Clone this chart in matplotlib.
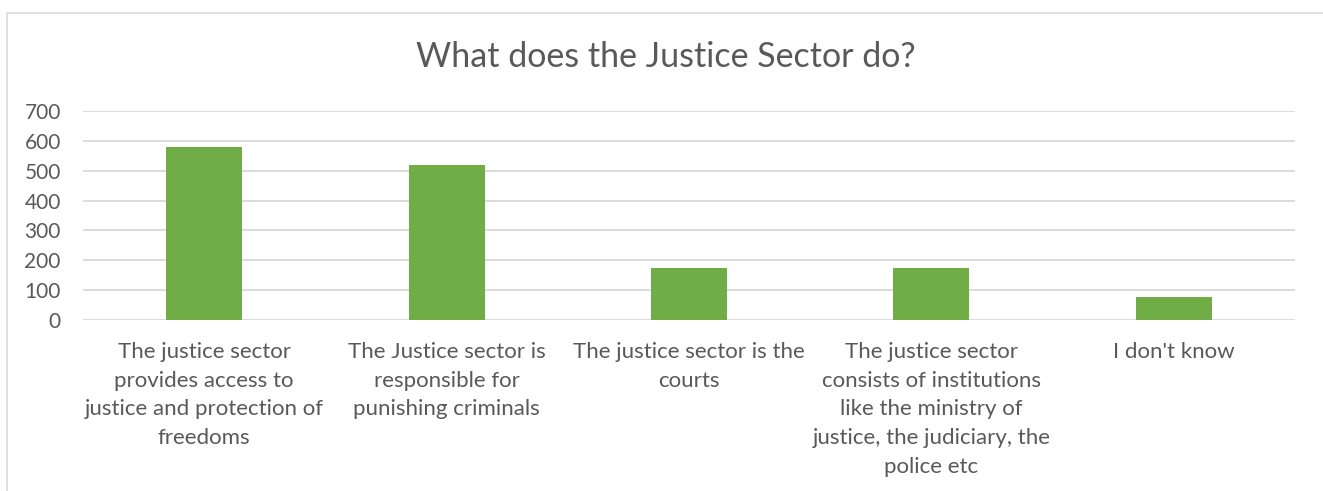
import matplotlib.pyplot as plt
from matplotlib.patches import Rectangle

categories = [
    "The justice sector\nprovides access to\njustice and protection of\nfreedoms",
    "The Justice sector is\nresponsible for\npunishing criminals",
    "The justice sector is the\ncourts",
    "The justice sector\nconsists of institutions\nlike the ministry of\njustice, the judiciary, the\npolice etc",
    "I don't know",
]
counts = [580, 518, 173, 172, 74]
y_ticks = [0, 100, 200, 300, 400, 500, 600, 700]

TEXT = "#595959"
GRID = "#D9D9D9"
GREEN = "#70AD47"

plt.rcParams['font.family'] = ['Lato', 'DejaVu Sans']

W, H = 1323, 491
fig = plt.figure(figsize=(W / 100, H / 100), dpi=100)
fig.patch.set_facecolor("white")

# outer chart frame (cropped on right and bottom in the reference)
fig.patches.append(Rectangle((7 / W, -0.1), 1.2, 1.1 - 13 / H,
                             transform=fig.transFigure, fill=False,
                             edgecolor=GRID, linewidth=1.2))

ax = fig.add_axes([83 / W, (H - 319.5) / H, (1295 - 83) / W, (319.5 - 111.3) / H])
x = range(len(categories))
ax.bar(x, counts, width=0.314, color=GREEN, zorder=3)

ax.set_ylim(0, 700)
ax.set_xlim(-0.5, len(categories) - 0.5)
ax.set_yticks(y_ticks)
ax.set_xticks(list(x))
ax.set_xticklabels(categories, fontsize=16, color=TEXT, linespacing=1.55)
ax.tick_params(axis='y', length=0, pad=16, labelsize=15, labelcolor=TEXT)
ax.tick_params(axis='x', length=0, pad=16)
ax.yaxis.grid(True, color=GRID, linewidth=1.3, zorder=0)
for s in ax.spines.values():
    s.set_visible(False)

fig.text(666 / W, 1 - 57 / H, "What does the Justice Sector do?",
         ha='center', va='center', fontsize=24.5, color=TEXT)

fig.savefig("out.png", dpi=100)
